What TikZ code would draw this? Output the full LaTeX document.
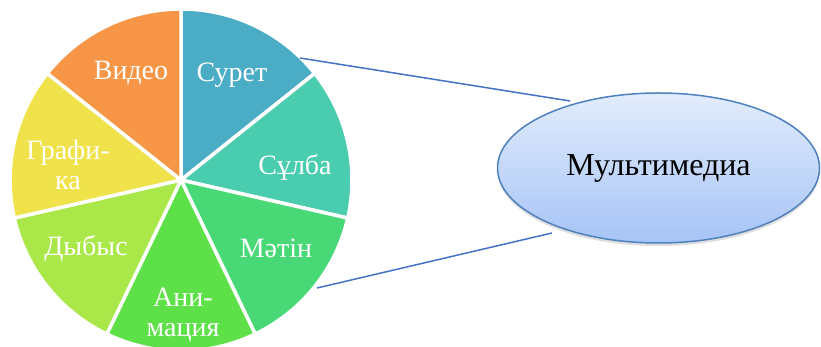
\documentclass[tikz,border=0pt]{standalone}
\usepackage{fontspec}
\setmainfont{Liberation Serif}
\usetikzlibrary{shapes.geometric,shadows,calc}
\definecolor{csuret}{RGB}{75,172,198}
\definecolor{csulba}{RGB}{74,205,174}
\definecolor{cmatin}{RGB}{72,216,118}
\definecolor{canim}{RGB}{94,224,72}
\definecolor{cdybys}{RGB}{170,232,74}
\definecolor{cgraf}{RGB}{240,226,74}
\definecolor{cvideo}{RGB}{247,150,70}
\definecolor{linkblue}{RGB}{68,114,196}
\definecolor{elltop}{RGB}{226,236,252}
\definecolor{ellbot}{RGB}{166,196,246}
\definecolor{ellborder}{RGB}{79,129,189}
\tikzset{
  sector/.style={draw=white, line width=3.5pt},
  lbl/.style={text=white, font=\fontsize{28}{30}\selectfont, align=center, inner sep=0pt},
  link/.style={draw=linkblue, line width=1.5pt},
  bigell/.style={ellipse, draw=ellborder, line width=1.5pt, top color=elltop, bottom color=ellbot,
    minimum width=322pt, minimum height=150pt, inner sep=0pt,
    font=\fontsize{32}{34}\selectfont,
    drop shadow={shadow xshift=0pt, shadow yshift=-3pt, opacity=0.22, fill=black!60}}
}
\begin{document}
\begin{tikzpicture}[x=1pt,y=1pt]
\useasboundingbox (0,0) rectangle (821,347);
\clip (0,0) rectangle (821,347);
\fill[white] (0,0) rectangle (821,347);
\coordinate (c) at (181,167);
\foreach \i/\col in {0/csuret,1/csulba,2/cmatin,3/canim,4/cdybys,5/cgraf,6/cvideo}{
  \pgfmathsetmacro{\a}{90-360/7*\i}
  \pgfmathsetmacro{\b}{90-360/7*(\i+1)}
  \path[sector, fill=\col] (c) -- ($(c)+(\a:171)$) arc[start angle=\a, end angle=\b, radius=171] -- cycle;
}
\node[lbl] (suret) at (232,272) {Сурет};
\node[lbl] (video) at (131,274) {Видео};
\node[lbl] (sulba) at (295,180) {Сұлба};
\node[lbl] (graf) at (68,182) {Графи-\\ка};
\node[lbl] (dybys) at (86,99) {Дыбыс};
\node[lbl] (matin) at (276,99) {Мәтін};
\node[lbl] (anim) at (183,32) {Ани-\\мация};
\node[bigell] (mm) at (658.5,179) {Мультимедиа};
\coordinate (p1) at (300,289);
\coordinate (q1) at (570,246);
\coordinate (p2) at (317,59);
\coordinate (q2) at (552,114);
\draw[link] (p1) -- (q1);
\draw[link] (p2) -- (q2);
\end{tikzpicture}
\end{document}
